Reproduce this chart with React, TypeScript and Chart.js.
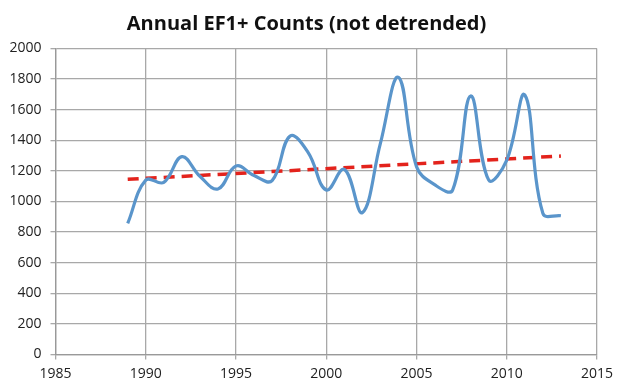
import React, { useEffect, useRef } from "react";
import { Chart, registerables } from "chart.js";

Chart.register(...registerables);

const years = [1989, 1990, 1991, 1992, 1993, 1994, 1995, 1996, 1997, 1998, 1999, 2000, 2001, 2002, 2003, 2004, 2005, 2006, 2007, 2008, 2009, 2010, 2011, 2012, 2013];
const counts = [857, 1140, 1125, 1293, 1165, 1082, 1232, 1170, 1136, 1428, 1320, 1075, 1210, 927, 1380, 1812, 1228, 1110, 1075, 1690, 1140, 1270, 1696, 923, 907];
const trendYears = [1989, 2013];
const trendValues = [1145, 1297];
const title = "Annual EF1+ Counts (not detrended)";

const titlePlugin = {
  id: "centeredTitle",
  afterDraw(chart: any) {
    const c = chart.ctx;
    c.save();
    c.font = "bold 20px 'Open Sans'";
    c.fillStyle = "#111";
    c.textAlign = "center";
    c.textBaseline = "middle";
    c.fillText(title, 306.5, 24);
    c.restore();
  },
};

export default function App() {
  const ref = useRef<HTMLCanvasElement>(null);
  useEffect(() => {
    document.body.style.margin = "0";
    const ctx = ref.current!;
    const chart = new Chart(ctx, {
      type: "line",
      data: {
        datasets: [
          {
            data: years.map((x, i) => ({ x, y: counts[i] })),
            borderColor: "#5a95cb",
            borderWidth: 3.2,
            pointRadius: 0,
            tension: 0.4,
            fill: false,
          },
          {
            data: trendYears.map((x, i) => ({ x, y: trendValues[i] })),
            borderColor: "#e3231c",
            borderWidth: 3.5,
            borderDash: [11, 7],
            pointRadius: 0,
            tension: 0,
            fill: false,
          },
        ],
      },
      plugins: [titlePlugin],
      options: {
        animation: false,
        responsive: false,
        maintainAspectRatio: false,
        layout: { padding: { left: 0, right: 23, top: 48.5, bottom: 0 } },
        plugins: {
          legend: { display: false },
          tooltip: { enabled: false },
          title: { display: false },
        },
        scales: {
          x: {
            type: "linear",
            min: 1985,
            max: 2015,
            ticks: {
              stepSize: 5,
              color: "#222",
              font: { family: "Open Sans", size: 14 },
              padding: 6,
              maxRotation: 0,
              callback: (v: any) => String(v),
            },
            grid: { color: "#a8a8a8", lineWidth: 1.3, tickLength: 5 },
            border: { color: "#999", width: 1.3 },
            afterFit: (s: any) => {
              s.height = 29.5;
            },
          },
          y: {
            min: 0,
            max: 2000,
            ticks: {
              stepSize: 200,
              color: "#222",
              font: { family: "Open Sans", size: 14 },
              padding: 9,
              callback: (v: any) => String(v),
            },
            grid: { color: "#a8a8a8", lineWidth: 1.3, tickLength: 5 },
            border: { color: "#999", width: 1.3 },
            afterFit: (s: any) => {
              s.width = 55.5;
            },
          },
        },
      },
    });
    return () => chart.destroy();
  }, []);
  return (
    <div style={{ width: 620, height: 384, background: "#fff" }}>
      <canvas ref={ref} width={620} height={384} style={{ display: "block" }} />
    </div>
  );
}
